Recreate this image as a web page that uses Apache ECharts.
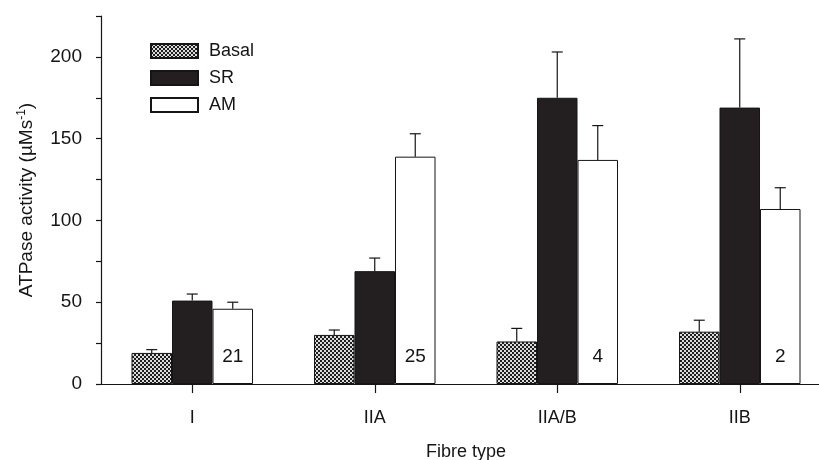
<!DOCTYPE html>
<html><head><meta charset="utf-8">
<script src="https://cdn.jsdelivr.net/npm/echarts@6/dist/echarts.min.js"></script>
<style>html,body{margin:0;padding:0;background:#fff}#c{width:819px;height:460px}</style>
</head><body><div id="c"></div>
<script>
const categories = ['I', 'IIA', 'IIA/B', 'IIB'];
const basal = [19, 30, 26, 32];
const basalErr = [2, 3, 8, 7];
const sr = [51, 69, 175, 169];
const srErr = [4, 8, 28, 42];
const am = [46, 139, 137, 107];
const amErr = [4, 14, 21, 13];
const nLabels = ['21', '25', '4', '2'];
const yTickLabels = [0, 50, 100, 150, 200];

const FONT = 'Liberation Sans, Arial, Helvetica, sans-serif';
const INK = '#151515';
const BAR_W = 40.5;
const CAP = 5.5;

function makePattern() {
  const c = document.createElement('canvas');
  c.width = 4; c.height = 4;
  const g = c.getContext('2d');
  g.fillStyle = '#dcdcdc'; g.fillRect(0, 0, 4, 4);
  g.fillStyle = '#1e1e1e';
  for (let y = 0; y < 4; y++) for (let x = 0; x < 4; x++) {
    if (((x >> 1) + (y >> 1)) % 2 === 0) g.fillRect(x, y, 1, 1);
  }
  return c;
}
const pattern = { image: makePattern(), repeat: 'repeat' };

function errRender(slot) {
  return function (params, api) {
    const i = api.value(0);
    const base = api.coord([i, api.value(1)]);
    const top = api.coord([i, api.value(2)]);
    const cx = base[0] + slot * BAR_W;
    const st = { stroke: INK, lineWidth: 1.2 };
    return { type: 'group', children: [
      { type: 'line', shape: { x1: cx, y1: base[1], x2: cx, y2: top[1] }, style: st },
      { type: 'line', shape: { x1: cx - CAP, y1: top[1], x2: cx + CAP, y2: top[1] }, style: st }
    ] };
  };
}
function errData(m, e) { return categories.map((c, i) => [i, m[i], m[i] + e[i]]); }

const chart = echarts.init(document.getElementById('c'), null, { renderer: 'canvas' });
chart.setOption({
  animation: false,
  backgroundColor: '#fff',
  textStyle: { fontFamily: FONT, color: INK },
  grid: { left: 101, right: -12, top: 16, bottom: 76, containLabel: false, outerBoundsMode: 'none' },
  legend: {
    data: ['Basal', 'SR', 'AM'], orient: 'vertical', left: 145, top: 37,
    itemWidth: 47, itemHeight: 14, itemGap: 9, icon: 'rect',
    textStyle: { fontSize: 18, color: INK, fontFamily: FONT, padding: [0, 0, 0, 6] }
  },
  xAxis: {
    type: 'category', data: categories, boundaryGap: true,
    axisLine: { show: true, lineStyle: { color: INK, width: 1.2 } },
    axisTick: { show: true, alignWithLabel: true, length: 9, lineStyle: { color: INK, width: 1.2 } },
    axisLabel: { margin: 25, fontSize: 18, color: INK, fontFamily: FONT },
    name: 'Fibre type', nameLocation: 'middle', nameGap: 59,
    nameTextStyle: { fontSize: 18, color: INK, fontFamily: FONT },
    splitLine: { show: false }
  },
  yAxis: [
    {
      type: 'value', min: 0, max: 225, interval: 25,
      axisLine: { show: true, lineStyle: { color: INK, width: 1.2 } },
      axisTick: { show: true, length: 5, lineStyle: { color: INK, width: 1.2 } },
      axisLabel: { formatter: v => yTickLabels.includes(v) ? String(v) : '', margin: 19, fontSize: 19, color: INK, fontFamily: FONT },
      splitLine: { show: false },
      name: 'ATPase activity (µMs{sup|-1})', nameLocation: 'middle', nameGap: 64,
      nameTextStyle: { fontSize: 19, color: INK, fontFamily: FONT,
        rich: { sup: { fontSize: 12, padding: [0, 0, 9, 0], color: INK, fontFamily: FONT } } }
    },
    {
      type: 'value', min: 0, max: 225, interval: 50,
      axisLine: { show: false },
      axisTick: { show: true, length: 10, customValues: yTickLabels, lineStyle: { color: INK, width: 1.2 } },
      axisLabel: { show: false },
      splitLine: { show: false }
    }
  ],
  series: [
    { name: 'Basal', type: 'bar', data: basal, barWidth: BAR_W, barGap: '0%',
      itemStyle: { color: pattern, borderColor: INK, borderWidth: 1 } },
    { name: 'SR', type: 'bar', data: sr, barWidth: BAR_W, barGap: '0%',
      itemStyle: { color: '#231f20', borderColor: INK, borderWidth: 1 } },
    { name: 'AM', type: 'bar', data: am, barWidth: BAR_W, barGap: '0%',
      itemStyle: { color: '#ffffff', borderColor: INK, borderWidth: 1 },
      label: { show: true, position: 'insideBottom', distance: 18, formatter: p => nLabels[p.dataIndex],
        fontSize: 19, color: INK, fontFamily: FONT } },
    { type: 'custom', renderItem: errRender(-1), data: errData(basal, basalErr), z: 3 },
    { type: 'custom', renderItem: errRender(0), data: errData(sr, srErr), z: 3 },
    { type: 'custom', renderItem: errRender(1), data: errData(am, amErr), z: 3 }
  ]
});
</script></body></html>
